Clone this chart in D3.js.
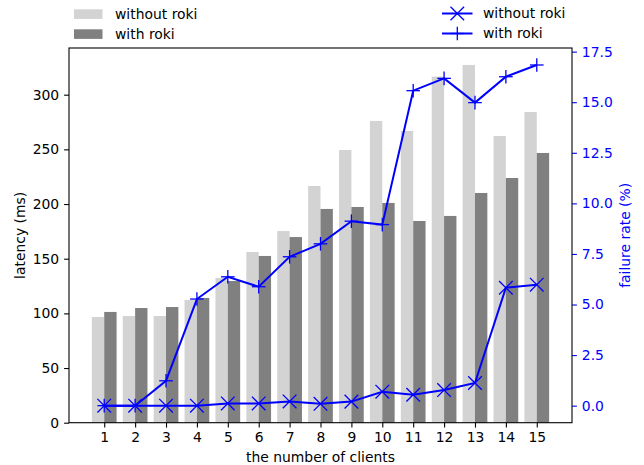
<!DOCTYPE html>
<html><head><meta charset="utf-8">
<script src="https://cdn.jsdelivr.net/npm/d3@7"></script>
<style>body{margin:0;background:#fff}svg{display:block}text{font-family:"DejaVu Sans",sans-serif}</style>
</head><body>
<svg id="c" width="644" height="465"></svg>
<script>
const clients = [1,2,3,4,5,6,7,8,9,10,11,12,13,14,15];
const latencyWithout = [96.7,97.6,97.6,112.2,132.4,156.1,175.3,216.5,249.4,276,266.9,316.5,327.2,262.2,284.2];
const latencyWith = [101.3,104.9,105.8,114.1,129.6,152.5,169.8,195.5,197.3,201,184.5,189.1,210.1,223.8,246.7];
const failWithout = [0,0,0,0,0.11,0.11,0.21,0.09,0.2,0.69,0.54,0.77,1.12,5.83,5.98];
const failWith = [0,0,1.23,5.27,6.37,5.88,7.36,8.0,9.12,8.95,15.57,16.18,14.98,16.26,16.84];
const leftTicks = [0,50,100,150,200,250,300];
const rightTicks = [0,2.5,5,7.5,10,12.5,15,17.5];

const svg = d3.select("#c");
const L=69, R=572, T=48, B=422.7;
const fs = 13.9;
const x = d3.scaleLinear().domain([-0.14,16.14]).range([L,R]);
const y = d3.scaleLinear().domain([0,342.7]).range([B,T]);
const y2 = d3.scaleLinear().domain([-0.842,17.68]).range([B,T]);
const bw = x(0.4)-x(0);

// bars
svg.append("g").selectAll("rect").data(clients).join("rect")
  .attr("x",(d)=>x(d-0.4)).attr("width",bw)
  .attr("y",(d,i)=>y(latencyWithout[i])).attr("height",(d,i)=>y(0)-y(latencyWithout[i]))
  .attr("fill","#d3d3d3");
svg.append("g").selectAll("rect").data(clients).join("rect")
  .attr("x",(d)=>x(d)).attr("width",bw)
  .attr("y",(d,i)=>y(latencyWith[i])).attr("height",(d,i)=>y(0)-y(latencyWith[i]))
  .attr("fill","#808080");

// lines
const ms = 6.8;
const mw = 1.3;
function drawSeries(vals, kind){
  const line = d3.line().x((d,i)=>x(clients[i])).y(d=>y2(d));
  svg.append("path").datum(vals).attr("d",line).attr("fill","none").attr("stroke","#0000ff").attr("stroke-width",2);
  const g = svg.append("g");
  vals.forEach((v,i)=>{
    marker(g,x(clients[i]),y2(v),kind);
  });
}
function marker(g,cx,cy,kind){
  const segs = kind==="x"
    ? [[cx-ms,cy-ms,cx+ms,cy+ms],[cx-ms,cy+ms,cx+ms,cy-ms]]
    : [[cx-ms,cy,cx+ms,cy],[cx,cy-ms,cx,cy+ms]];
  segs.forEach(s=>g.append("line").attr("x1",s[0]).attr("y1",s[1]).attr("x2",s[2]).attr("y2",s[3]).attr("stroke","#0000ff").attr("stroke-width",mw));
}
drawSeries(failWithout,"x");
drawSeries(failWith,"+");

// axes
const xAxis = svg.append("g").attr("transform",`translate(0,${B})`)
  .call(d3.axisBottom(x).tickValues(clients).tickFormat(d3.format("d")).tickSize(4.9).tickPadding(4.9));
const yAxis = svg.append("g").attr("transform",`translate(${L},0)`)
  .call(d3.axisLeft(y).tickValues(leftTicks).tickSize(4.9).tickPadding(4.9));
const y2Axis = svg.append("g").attr("transform",`translate(${R},0)`)
  .call(d3.axisRight(y2).tickValues(rightTicks).tickFormat(d3.format(".1f")).tickSize(4.9).tickPadding(4.9));
[xAxis,yAxis,y2Axis].forEach(a=>{a.select(".domain").remove();a.selectAll("text").attr("font-size",fs).attr("font-family","DejaVu Sans").attr("fill","#000");a.selectAll("line").attr("stroke","#000").attr("stroke-width",1.1);});
y2Axis.selectAll("text").attr("fill","#0000ff");
y2Axis.selectAll("line").attr("stroke","#0000ff");

// frame
svg.append("rect").attr("x",L).attr("y",T).attr("width",R-L).attr("height",B-T).attr("fill","none").attr("stroke","#000").attr("stroke-width",1.1);

// axis labels
svg.append("text").attr("x",(L+R)/2).attr("y",462).attr("text-anchor","middle").attr("font-size",fs).text("the number of clients");
svg.append("text").attr("transform",`translate(25,${(T+B)/2}) rotate(-90)`).attr("text-anchor","middle").attr("font-size",fs).text("latency (ms)");
svg.append("text").attr("transform",`translate(630,${(T+B)/2}) rotate(-90)`).attr("text-anchor","middle").attr("font-size",fs).attr("fill","#0000ff").text("failure rate (%)");

// legends
const barLegend = [{label:"without roki",color:"#d3d3d3"},{label:"with roki",color:"#808080"}];
barLegend.forEach((d,i)=>{
  svg.append("rect").attr("x",74).attr("y",9.3+i*20).attr("width",28.5).attr("height",9.6).attr("fill",d.color);
  svg.append("text").attr("x",115).attr("y",14+i*20).attr("dy","0.35em").attr("font-size",fs).text(d.label);
});
const lineLegend = [{label:"without roki",kind:"x"},{label:"with roki",kind:"+"}];
lineLegend.forEach((d,i)=>{
  const cy=13.5+i*20;
  svg.append("line").attr("x1",442).attr("x2",472.5).attr("y1",cy).attr("y2",cy).attr("stroke","#0000ff").attr("stroke-width",2);
  marker(svg.append("g"),457.3,cy,d.kind);
  svg.append("text").attr("x",483).attr("y",cy).attr("dy","0.35em").attr("font-size",fs).text(d.label);
});
</script>
</body></html>
